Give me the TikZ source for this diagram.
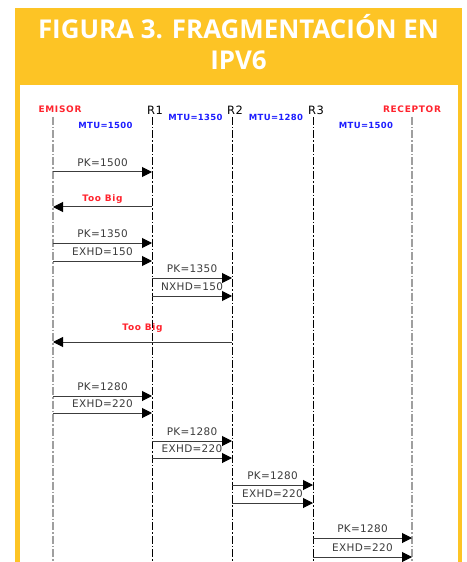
\documentclass[tikz,border=0pt]{standalone}
\usepackage{fontspec}
\setmainfont{DejaVu Sans}
\newfontfamily\titlefont{Open Sans}
\newfontfamily\tagfont[LetterSpace=8]{DejaVu Sans}
\newfontfamily\mtufont[LetterSpace=4]{DejaVu Sans}
\newfontfamily\msgfont[LetterSpace=3]{DejaVu Sans}
\usepackage{xcolor}
\usepackage{tikz}
\usetikzlibrary{arrows.meta, positioning, calc}

\definecolor{banner}{RGB}{253,196,37}
\definecolor{alertred}{RGB}{255,35,45}
\definecolor{mtublue}{RGB}{30,30,255}
\definecolor{msggray}{RGB}{60,60,60}

\begin{document}
\begin{tikzpicture}[x=1bp, y=-1bp,
    title/.style={align=center, text=white, inner sep=0pt,
                  font=\titlefont\bfseries\fontsize{26}{31.3}\selectfont},
    actor/.style={text=alertred, inner sep=0pt,
                  font=\tagfont\bfseries\fontsize{9}{10}\selectfont},
    router/.style={inner sep=0pt, font=\msgfont\fontsize{11.5}{12}\selectfont},
    mtu/.style={text=mtublue, inner sep=0pt,
                font=\mtufont\bfseries\fontsize{8.5}{10}\selectfont},
    life/.style={draw=gray!75, line width=1.4bp,
                 dash pattern=on 8bp off 2bp on 1.5bp off 2bp},
    rlife/.style={life, draw=black, line width=0.7bp},
    msg/.style={-{Triangle[length=10bp,width=10bp,black]}, draw=msggray, line width=1bp},
    lbl/.style={text=msggray, inner sep=0pt, text depth=0pt, above=5bp,
                font=\msgfont\fontsize{10.5}{12}\selectfont},
    alert/.style={lbl, text=alertred, font=\tagfont\bfseries\fontsize{9}{10}\selectfont}
]
    \useasboundingbox[fill=white] (0,0) rectangle (467,562);

    % Yellow frame and banner
    \fill[banner] (15,8) rectangle (462,85);
    \fill[banner] (15,85) rectangle (19.5,562);
    \fill[banner] (457.5,85) rectangle (462,562);
    \node[title, anchor=north] (head) at (238.5,14) {FIGURA 3. FRAGMENTACIÓN EN\\IPV6};

    % Lifeline tops
    \coordinate (em) at (53,117);
    \coordinate (r1) at (152,117);
    \coordinate (r2) at (232,117);
    \coordinate (r3) at (313,117);
    \coordinate (rc) at (412,117);

    % Participants
    \node[actor] (emlbl) at (60,109) {EMISOR};
    \node[router] (r1lbl) at (155,110) {R1};
    \node[router] (r2lbl) at (235,110) {R2};
    \node[router] (r3lbl) at (316,110) {R3};
    \node[actor] (rclbl) at (412,109) {RECEPTOR};

    % MTU of each link
    \node[mtu] (mtu1) at (105.5,125) {MTU=1500};
    \node[mtu] (mtu2) at (195.5,117) {MTU=1350};
    \node[mtu] (mtu3) at (276,117) {MTU=1280};
    \node[mtu] (mtu4) at (366,125) {MTU=1500};

    % Lifelines
    \draw[life] (em) -- (em |- 0,562);
    \draw[rlife] (r1) -- (r1 |- 0,562);
    \draw[rlife] (r2) -- (r2 |- 0,562);
    \draw[rlife] (r3) -- (r3 |- 0,562);
    \draw[life] (rc) -- (rc |- 0,562);

    % Packets
    \foreach \y/\a/\b/\txt in {172/em/r1/PK=1500,
                               243/em/r1/PK=1350, 261/em/r1/EXHD=150,
                               278/r1/r2/PK=1350, 296/r1/r2/NXHD=150,
                               396/em/r1/PK=1280, 413/em/r1/EXHD=220,
                               441/r1/r2/PK=1280, 458/r1/r2/EXHD=220,
                               485/r2/r3/PK=1280, 503/r2/r3/EXHD=220,
                               538/r3/rc/PK=1280, 557/r3/rc/EXHD=220} {
        \draw[msg] (\a |- 0,\y) -- node[lbl] {\txt} (\b |- 0,\y);
    }

    % ICMPv6 replies
    \draw[msg] (r1 |- 0,207) -- node[alert] {Too Big} (em |- 0,207);
    \draw[msg] (r2 |- 0,342) -- node[alert, above=11bp] {Too Big} (em |- 0,342);
\end{tikzpicture}
\end{document}
